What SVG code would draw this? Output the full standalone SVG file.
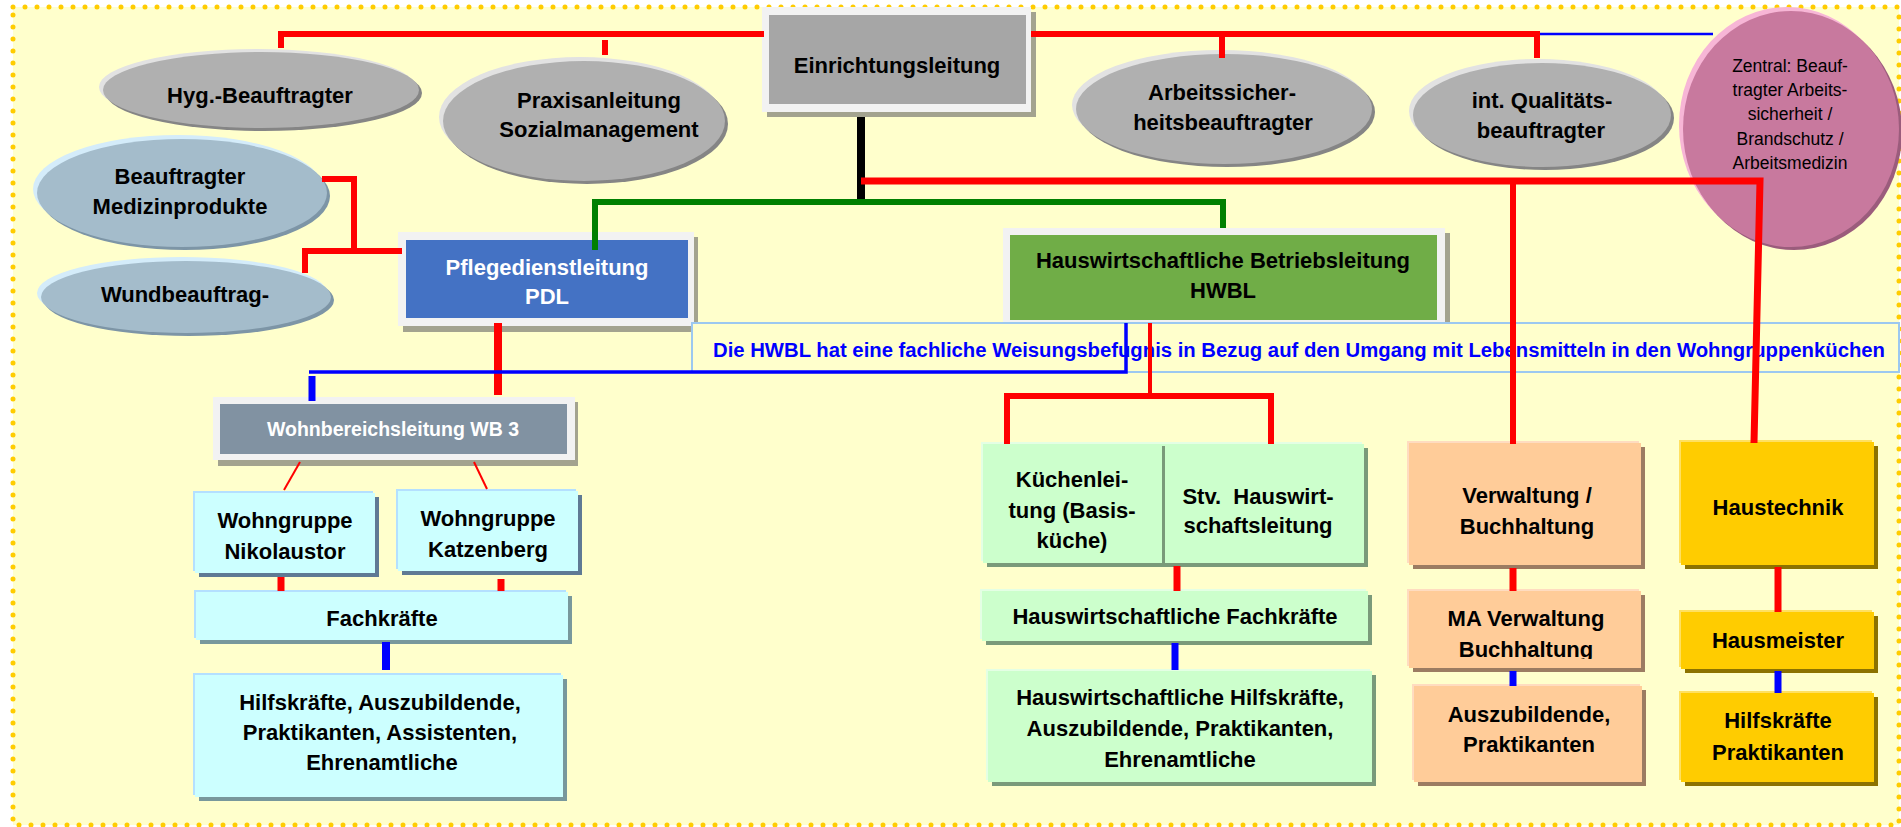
<svg xmlns="http://www.w3.org/2000/svg" width="1901" height="827" viewBox="0 0 1901 827">
<defs>
<style>
text{font-family:"Liberation Sans",Arial,sans-serif;font-weight:bold;font-size:22px;fill:#000;text-anchor:middle}
.w{fill:#fff}
.sm{font-size:19.5px}
.note{fill:#0000ff;text-anchor:start;font-size:19.5px}
.pink{font-weight:normal;font-size:17.5px}
.r{stroke:#ff0000;fill:none}
.b{stroke:#0000ff;fill:none}
.g{stroke:#008000;fill:none}
.k{stroke:#000;fill:none}
.frame{fill:#f2f2f2}
.fsh{fill:#a3a38f}
.ge{fill:#b0b0b0}.geh{fill:#e2e2e2}.ges{fill:#858585}
.be{fill:#a4bccb}.beh{fill:#d4ecfa}.bes{fill:#7d95a6}
.cy{fill:#ccffff}.cyh{fill:#b4e0ff}.cys{fill:#5f7a94}.cys2{fill:#78989c}
.gr{fill:#ccffcc}.grh{fill:#e4ffe4}.grs{fill:#7a9a7a}
.or{fill:#ffcc99}.orh{fill:#ffdcc0}.ors{fill:#9c7c62}
.ye{fill:#ffcc00}.yeh{fill:#ffe060}.yes{fill:#8c7200}
</style>
<clipPath id="clipMA"><rect x="1400" y="585" width="260" height="74"/></clipPath>
</defs>
<rect width="1901" height="827" fill="#fff"/>
<rect x="13" y="7" width="1886" height="818" fill="#ffffcc" stroke="#ffcc00" stroke-width="5" stroke-linecap="round" stroke-dasharray="0 12"/>

<g id="einrichtungsleitung">
<rect class="fsh" x="767" y="12" width="269" height="105"/>
<rect class="frame" x="762" y="7" width="269" height="105"/>
<rect x="769" y="15" width="257" height="89" fill="#a6a6a6"/>
<text x="897" y="73">Einrichtungsleitung</text>
</g>

<g id="hyg">
<ellipse class="geh" cx="257" cy="87" rx="158" ry="38"/>
<ellipse class="ges" cx="264" cy="93" rx="158" ry="38"/>
<ellipse class="ge" cx="261" cy="90" rx="158" ry="38"/>
<text x="260" y="103">Hyg.-Beauftragter</text>
</g>

<g id="praxis">
<ellipse class="geh" cx="580" cy="117" rx="141" ry="60"/>
<ellipse class="ges" cx="587" cy="124" rx="141" ry="60"/>
<ellipse class="ge" cx="584" cy="121" rx="141" ry="60"/>
<text x="599" y="108">Praxisanleitung</text>
<text x="599" y="137">Sozialmanagement</text>
</g>

<g id="arbeitssicherheit">
<ellipse class="geh" cx="1220" cy="105" rx="148" ry="55"/>
<ellipse class="ges" cx="1227" cy="112" rx="148" ry="55"/>
<ellipse class="ge" cx="1224" cy="109" rx="148" ry="55"/>
<text x="1222" y="100">Arbeitssicher-</text>
<text x="1223" y="130">heitsbeauftragter</text>
</g>

<g id="qualitaet">
<ellipse class="geh" cx="1538" cy="111" rx="129" ry="52"/>
<ellipse class="ges" cx="1545" cy="118" rx="129" ry="52"/>
<ellipse class="ge" cx="1542" cy="115" rx="129" ry="52"/>
<text x="1542" y="108">int. Qualitäts-</text>
<text x="1541" y="138">beauftragter</text>
</g>

<g id="zentral">
<ellipse cx="1787" cy="125" rx="108" ry="118" fill="#f7b6d6"/>
<ellipse cx="1794" cy="132" rx="108" ry="118" fill="#9b5c7c"/>
<ellipse cx="1791" cy="129" rx="108" ry="118" fill="#c8799e"/>
<text class="pink" x="1790" y="72">Zentral: Beauf-</text>
<text class="pink" x="1790" y="96">tragter Arbeits-</text>
<text class="pink" x="1790" y="120">sicherheit /</text>
<text class="pink" x="1790" y="145">Brandschutz /</text>
<text class="pink" x="1790" y="169">Arbeitsmedizin</text>
</g>

<g id="medizinprodukte">
<ellipse class="beh" cx="178" cy="189" rx="145" ry="54"/>
<ellipse class="bes" cx="185" cy="196" rx="145" ry="54"/>
<ellipse class="be" cx="182" cy="193" rx="145" ry="54"/>
<text x="180" y="184">Beauftragter</text>
<text x="180" y="214">Medizinprodukte</text>
</g>

<g id="wund">
<ellipse class="beh" cx="182" cy="293" rx="145" ry="36"/>
<ellipse class="bes" cx="189" cy="300" rx="145" ry="36"/>
<ellipse class="be" cx="186" cy="297" rx="145" ry="36"/>
<text x="185" y="302">Wundbeauftrag-</text>
</g>

<g id="pdl">
<rect class="fsh" x="403" y="237" width="295" height="95"/>
<rect class="frame" x="398" y="232" width="296" height="94"/>
<rect x="406" y="240" width="282" height="78" fill="#4472c4"/>
<text class="w" x="547" y="275">Pflegedienstleitung</text>
<text class="w" x="547" y="304">PDL</text>
</g>

<g id="hwbl">
<rect class="fsh" x="1008" y="233" width="442" height="92"/>
<rect class="frame" x="1003" y="228" width="442" height="94"/>
<rect x="1010" y="235" width="427" height="85" fill="#70ad47"/>
<text x="1223" y="268">Hauswirtschaftliche Betriebsleitung</text>
<text x="1223" y="298">HWBL</text>
</g>

<g id="hinweis">
<rect x="692" y="323" width="1207" height="49" fill="#ffffcc" stroke="#9cc8f0" stroke-width="2"/>
<text class="note" x="713" y="357" textLength="1172" lengthAdjust="spacingAndGlyphs">Die HWBL hat eine fachliche Weisungsbefugnis in Bezug auf den Umgang mit Lebensmitteln in den Wohngruppenküchen</text>
</g>

<g id="wb3">
<rect class="fsh" x="218" y="402" width="360" height="64"/>
<rect class="frame" x="213" y="397" width="362" height="63"/>
<rect x="220" y="404" width="347" height="50" fill="#8192a2"/>
<text class="w sm" x="393" y="436">Wohnbereichsleitung WB 3</text>
</g>

<g id="nikolaustor">
<rect class="cyh" x="193" y="491" width="180" height="80"/>
<rect class="cys" x="199" y="497" width="180" height="80"/>
<rect class="cy" x="195" y="493" width="180" height="80"/>
<text x="285" y="528">Wohngruppe</text>
<text x="285" y="559">Nikolaustor</text>
</g>

<g id="katzenberg">
<rect class="cyh" x="396" y="489" width="180" height="80"/>
<rect class="cys" x="402" y="495" width="180" height="80"/>
<rect class="cy" x="398" y="491" width="180" height="80"/>
<text x="488" y="526">Wohngruppe</text>
<text x="488" y="557">Katzenberg</text>
</g>

<g id="fachkraefte">
<rect class="cyh" x="194" y="590" width="372" height="48"/>
<rect class="cys2" x="200" y="596" width="372" height="48"/>
<rect class="cy" x="196" y="592" width="372" height="48"/>
<text x="382" y="626">Fachkräfte</text>
</g>

<g id="hilfskraefte">
<rect class="cyh" x="193" y="673" width="368" height="122"/>
<rect class="cys2" x="199" y="679" width="368" height="122"/>
<rect class="cy" x="195" y="675" width="368" height="122"/>
<text x="380" y="710">Hilfskräfte, Auszubildende,</text>
<text x="380" y="740">Praktikanten, Assistenten,</text>
<text x="382" y="770">Ehrenamtliche</text>
</g>

<g id="kuechenleitung">
<rect class="grh" x="981" y="442" width="381" height="119"/>
<rect class="grs" x="987" y="448" width="381" height="119"/>
<rect class="gr" x="983" y="444" width="381" height="119"/>
<line x1="1163.5" y1="446" x2="1163.5" y2="563" stroke="#7a9a7a" stroke-width="3"/>
<text x="1072" y="487">Küchenlei-</text>
<text x="1072" y="518">tung (Basis-</text>
<text x="1072" y="548">küche)</text>
</g>

<g id="stv-hauswirtschaftsleitung">
<text x="1258" y="504">Stv.&#160; Hauswirt-</text>
<text x="1258" y="533">schaftsleitung</text>
</g>

<g id="hw-fachkraefte">
<rect class="grh" x="980" y="589" width="386" height="50"/>
<rect class="grs" x="986" y="595" width="386" height="50"/>
<rect class="gr" x="982" y="591" width="386" height="50"/>
<text x="1175" y="624">Hauswirtschaftliche Fachkräfte</text>
</g>

<g id="hw-hilfskraefte">
<rect class="grh" x="986" y="669" width="384" height="111"/>
<rect class="grs" x="992" y="675" width="384" height="111"/>
<rect class="gr" x="988" y="671" width="384" height="111"/>
<text x="1180" y="705">Hauswirtschaftliche Hilfskräfte,</text>
<text x="1180" y="736">Auszubildende, Praktikanten,</text>
<text x="1180" y="767">Ehrenamtliche</text>
</g>

<g id="verwaltung">
<rect class="orh" x="1407" y="441" width="232" height="122"/>
<rect class="ors" x="1413" y="447" width="232" height="122"/>
<rect class="or" x="1409" y="443" width="232" height="122"/>
<text x="1527" y="503">Verwaltung /</text>
<text x="1527" y="534">Buchhaltung</text>
</g>

<g id="ma-verwaltung">
<rect class="orh" x="1407" y="589" width="232" height="77"/>
<rect class="ors" x="1413" y="595" width="232" height="77"/>
<rect class="or" x="1409" y="591" width="232" height="77"/>
<g clip-path="url(#clipMA)">
<text x="1526" y="626">MA Verwaltung</text>
<text x="1526" y="657">Buchhaltung</text>
</g>
</g>

<g id="azubis-verwaltung">
<rect class="orh" x="1412" y="684" width="228" height="96"/>
<rect class="ors" x="1418" y="690" width="228" height="96"/>
<rect class="or" x="1414" y="686" width="228" height="96"/>
<text x="1529" y="722">Auszubildende,</text>
<text x="1529" y="752">Praktikanten</text>
</g>

<g id="haustechnik">
<rect class="yeh" x="1679" y="440" width="193" height="123"/>
<rect class="yes" x="1685" y="446" width="193" height="123"/>
<rect class="ye" x="1681" y="442" width="193" height="123"/>
<text x="1778" y="515">Haustechnik</text>
</g>

<g id="hausmeister">
<rect class="yeh" x="1679" y="610" width="193" height="57"/>
<rect class="yes" x="1685" y="616" width="193" height="57"/>
<rect class="ye" x="1681" y="612" width="193" height="57"/>
<text x="1778" y="648">Hausmeister</text>
</g>

<g id="hilfskraefte-haustechnik">
<rect class="yeh" x="1679" y="691" width="193" height="89"/>
<rect class="yes" x="1685" y="697" width="193" height="89"/>
<rect class="ye" x="1681" y="693" width="193" height="89"/>
<text x="1778" y="728">Hilfskräfte</text>
<text x="1778" y="760">Praktikanten</text>
</g>

<g id="connectors">
<polyline class="r" stroke-width="6" points="281,48 281,34 764,34"/>
<polyline class="r" stroke-width="6" points="1031,34 1537,34 1537,58"/>
<line class="r" stroke-width="6" x1="605" y1="40" x2="605" y2="55"/>
<line class="r" stroke-width="6" x1="1222" y1="34" x2="1222" y2="58"/>
<line class="b" stroke-width="2.5" x1="1540" y1="34" x2="1713" y2="34"/>
<line class="k" stroke-width="8" x1="861" y1="117" x2="861" y2="202"/>
<polyline class="r" stroke-width="7" points="861,181 1760,181 1754,443"/>
<line class="r" stroke-width="6" x1="1513" y1="181" x2="1513" y2="444"/>
<polyline class="g" stroke-width="6" points="595,250 595,202 1223,202 1223,228"/>
<polyline class="r" stroke-width="6" points="322,179 354,179 354,251 402,251"/>
<polyline class="r" stroke-width="6" points="354,251 305,251 305,273"/>
<line class="r" stroke-width="8" x1="498" y1="323" x2="498" y2="395"/>
<polyline class="b" stroke-width="3.5" points="309,372 1126,372 1126,323"/>
<line class="b" stroke-width="7" x1="312" y1="376" x2="312" y2="401"/>
<line class="r" stroke-width="2" x1="300" y1="462" x2="284" y2="490"/>
<line class="r" stroke-width="2" x1="474" y1="462" x2="487" y2="489"/>
<line class="r" stroke-width="7" x1="281" y1="577" x2="281" y2="591"/>
<line class="r" stroke-width="7" x1="501" y1="579" x2="501" y2="591"/>
<line class="b" stroke-width="8" x1="386" y1="642" x2="386" y2="670"/>
<line class="r" stroke-width="4" x1="1150" y1="323" x2="1150" y2="396"/>
<polyline class="r" stroke-width="6" points="1007,444 1007,396 1271,396 1271,444"/>
<line class="r" stroke-width="7" x1="1177" y1="566" x2="1177" y2="591"/>
<line class="b" stroke-width="7" x1="1175" y1="643" x2="1175" y2="670"/>
<line class="r" stroke-width="7" x1="1513" y1="568" x2="1513" y2="591"/>
<line class="b" stroke-width="7" x1="1513" y1="671" x2="1513" y2="686"/>
<line class="r" stroke-width="7" x1="1778" y1="567" x2="1778" y2="612"/>
<line class="b" stroke-width="7" x1="1778" y1="671" x2="1778" y2="693"/>
</g>
</svg>
